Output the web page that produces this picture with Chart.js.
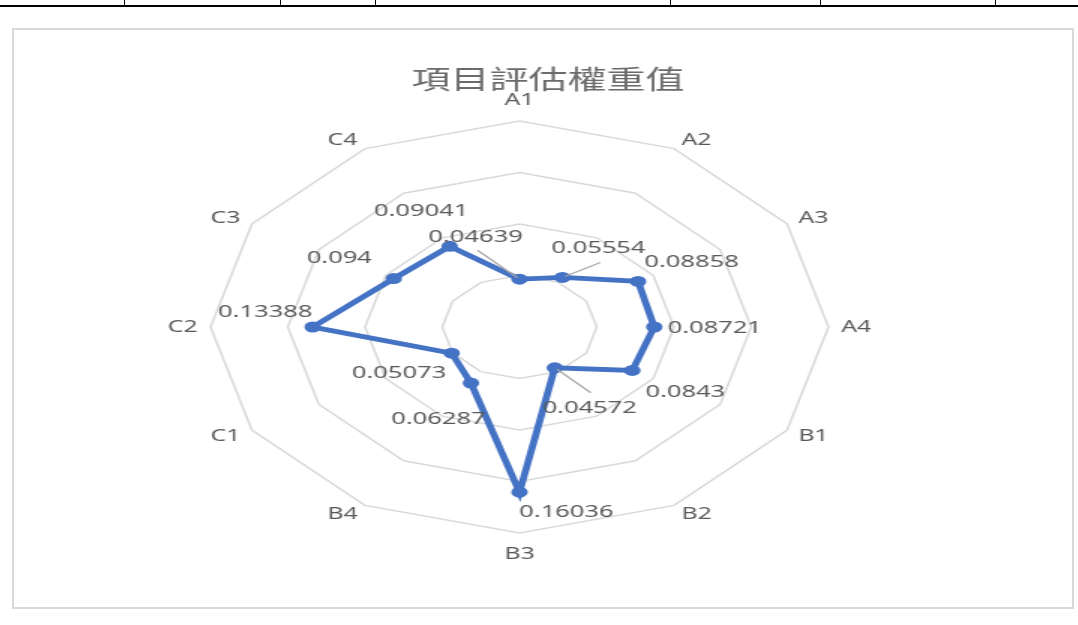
<!DOCTYPE html>
<html>
<head>
<meta charset="utf-8">
<script src="https://cdn.jsdelivr.net/npm/chart.js@4/dist/chart.umd.min.js"></script>
<style>
  html, body { margin: 0; padding: 0; background: #fff; }
  body { width: 1078px; height: 625px; position: relative; overflow: hidden; }
  .rule { position: absolute; background: #000; }
  .frame { position: absolute; left: 12px; top: 28px; width: 1058px; height: 577px; border: 2px solid #d9d9d9; background: #fff; }
  .stretch { position: absolute; left: 23px; top: 29px; width: 700px; height: 577px; transform: scaleX(1.5); transform-origin: 0 0; }
</style>
</head>
<body>
<div class="rule" style="left:0;top:5px;width:1078px;height:2px"></div>
<div class="rule" style="left:124px;top:0;width:1px;height:5px"></div>
<div class="rule" style="left:280px;top:0;width:1px;height:5px"></div>
<div class="rule" style="left:375px;top:0;width:1px;height:5px"></div>
<div class="rule" style="left:670px;top:0;width:1px;height:5px"></div>
<div class="rule" style="left:820px;top:0;width:1px;height:5px"></div>
<div class="rule" style="left:995px;top:0;width:1px;height:5px"></div>
<div class="frame"></div>
<div class="stretch"><canvas id="radar" width="700" height="577"></canvas></div>
<script>
const categories = ['A1', 'A2', 'A3', 'A4', 'B1', 'B2', 'B3', 'B4', 'C1', 'C2', 'C3', 'C4'];
const weights = [0.04639, 0.05554, 0.08858, 0.08721, 0.0843, 0.04572, 0.16036, 0.06287, 0.05073, 0.13388, 0.094, 0.09041];
const ringTicks = [0, 0.05, 0.1, 0.15, 0.2];

const TEXT = '#595959';
const BLUE = '#4472C4';

// where each value label sits relative to its point, and the optional leader line start
const labelOffsets = [
  [-29.3, -42], [24, -29], [35.7, -19], [40.3, 1], [35.3, 22], [23.3, 40],
  [31.3, 20], [-21.7, 36], [-35, 20], [-31.7, -15], [-36.3, -20], [-19, -35]
];
const leaders = { 0: [1.3, 13], 1: [1.3, 14], 5: [0.7, -15] };

// category names just outside the outer ring, pushed out by half their box
const categoryLabels = {
  id: 'categoryLabels',
  afterDraw(chart) {
    const r = chart.scales.r;
    const ctx = chart.ctx;
    ctx.save();
    ctx.fillStyle = TEXT;
    ctx.font = '16.5px "Noto Sans"';
    ctx.textAlign = 'center';
    ctx.textBaseline = 'middle';
    categories.forEach((c, i) => {
      const dist = r.drawingArea + 7;
      const p = r.getPointPosition(i, dist);
      const ux = (p.x - r.xCenter) / dist, uy = (p.y - r.yCenter) / dist;
      let x = p.x, y = p.y;
      if (Math.abs(ux) > 0.01) x += 11.5 * Math.sign(ux);
      if (Math.abs(uy) > 0.01) y += (Math.abs(uy) > 0.99 ? 14 : 2.5) * Math.sign(uy);
      ctx.fillText(c, x, y);
    });
    ctx.restore();
  }
};

const valueLabels = {
  id: 'valueLabels',
  afterDatasetsDraw(chart) {
    const ctx = chart.ctx;
    const pts = chart.getDatasetMeta(0).data;
    ctx.save();
    pts.forEach((p, i) => {
      const [dx, dy] = labelOffsets[i];
      const lx = p.x + dx, ly = p.y + dy;
      if (leaders[i]) {
        const sx = lx + leaders[i][0], sy = ly + leaders[i][1];
        const len = Math.hypot(p.x - sx, p.y - sy);
        const ex = p.x - (p.x - sx) / len * 2, ey = p.y - (p.y - sy) / len * 2;
        ctx.strokeStyle = '#a6a6a6';
        ctx.lineWidth = 1.2;
        ctx.beginPath();
        ctx.moveTo(sx, sy);
        ctx.lineTo(ex, ey);
        ctx.stroke();
      }
      ctx.fillStyle = TEXT;
      ctx.font = '17px "Noto Sans"';
      ctx.textAlign = 'center';
      ctx.textBaseline = 'middle';
      ctx.fillText(String(weights[i]), lx, ly);
    });
    ctx.restore();
  }
};

new Chart(document.getElementById('radar'), {
  type: 'radar',
  data: {
    labels: categories,
    datasets: [{
      data: weights,
      borderColor: BLUE,
      backgroundColor: BLUE,
      pointBackgroundColor: BLUE,
      pointBorderColor: BLUE,
      borderWidth: 4.8,
      pointRadius: 5.5,
      pointBorderWidth: 0,
      fill: false,
      tension: 0
    }]
  },
  options: {
    responsive: false,
    animation: false,
    layout: { padding: { top: 0, bottom: 73, left: 0, right: 0 } },
    plugins: {
      legend: { display: false },
      tooltip: { enabled: false },
      title: {
        display: true,
        text: '項目評估權重值',
        color: '#6b6b6b',
        font: { family: '"Noto Sans CJK TC"', size: 26, weight: 'normal', lineHeight: 1 },
        padding: { top: 37, bottom: 29 }
      }
    },
    scales: {
      r: {
        min: ringTicks[0],
        max: ringTicks[ringTicks.length - 1],
        ticks: { display: false, stepSize: ringTicks[1] - ringTicks[0] },
        grid: { color: '#d9d9d9', lineWidth: 1.5, circular: false },
        angleLines: { display: false },
        pointLabels: { display: false },
        afterSetDimensions(scale) { scale.xCenter -= 19; }
      }
    }
  },
  plugins: [valueLabels, categoryLabels]
});
</script>
</body>
</html>
